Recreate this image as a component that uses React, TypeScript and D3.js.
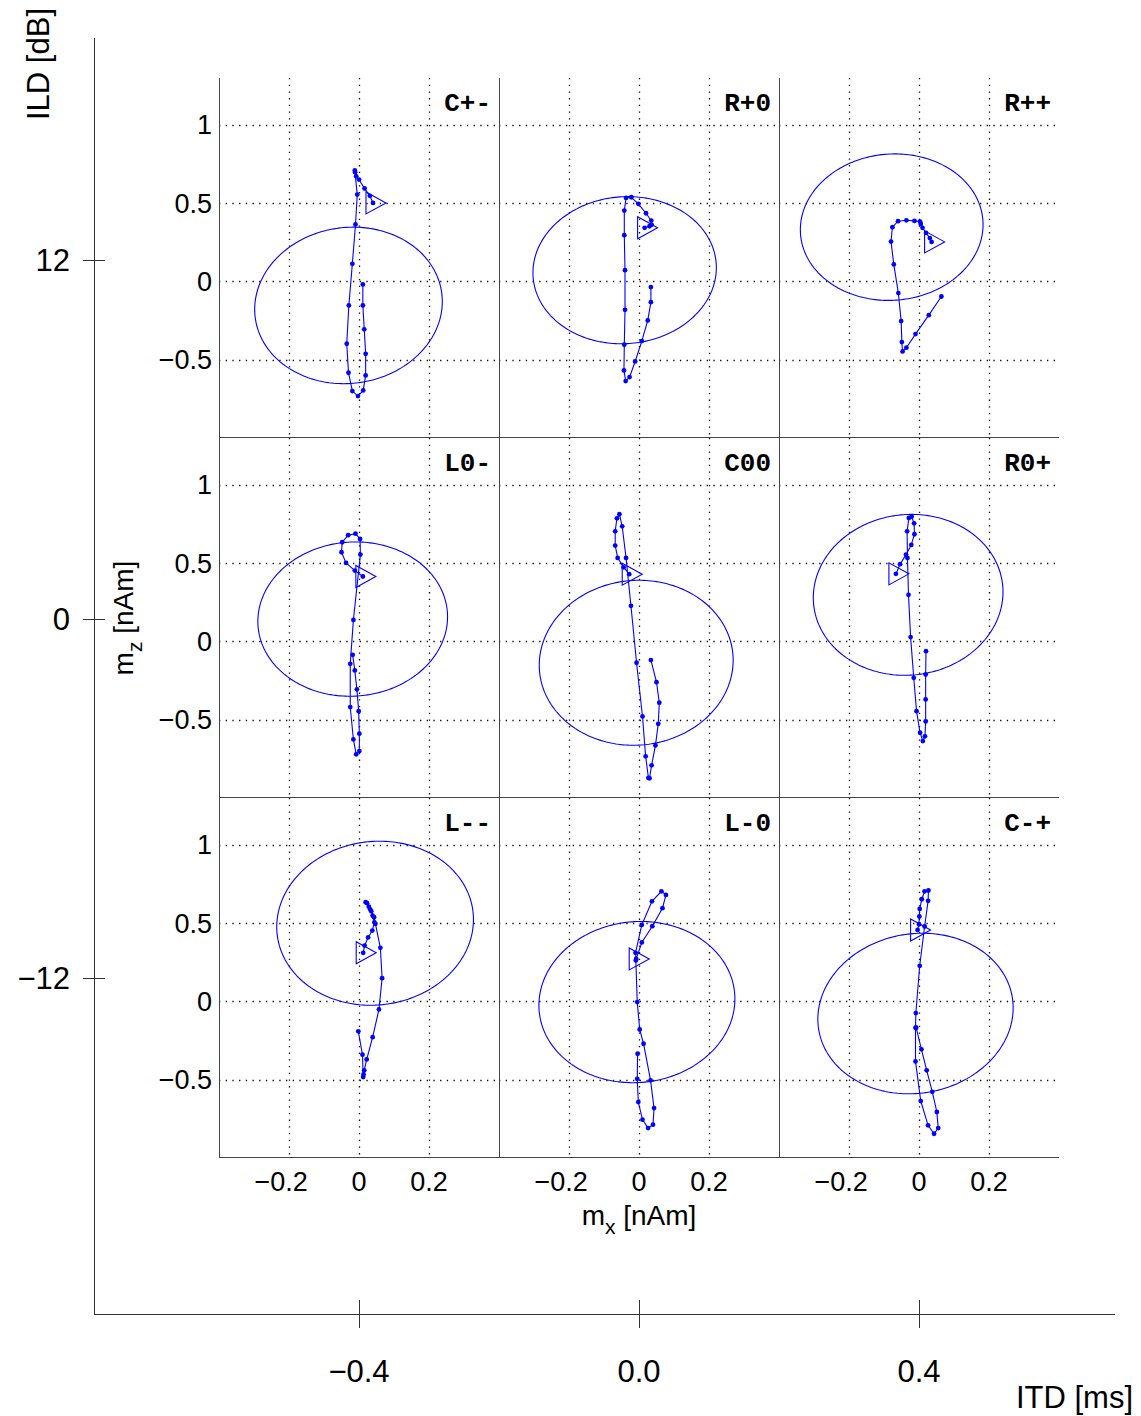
import React from "react";
import * as d3 from "d3";

// ---------- data ----------
const panelLabels = ["C+-", "R+0", "R++", "L0-", "C00", "R0+", "L--", "L-0", "C-+"];

const trajCpm: [number, number][] = [
  [0.040, 0.502], [0.031, 0.547], [0.016, 0.594], [0.000, 0.651], [-0.008, 0.672], [-0.011, 0.698],
  [-0.012, 0.709], [-0.005, 0.555], [-0.010, 0.364], [-0.019, 0.113], [-0.029, -0.153], [-0.035, -0.398],
  [-0.030, -0.583], [-0.019, -0.700], [-0.003, -0.732], [0.012, -0.696], [0.019, -0.600], [0.019, -0.462],
  [0.015, -0.306], [0.011, -0.153], [0.011, -0.019],
];
const trajRp0: [number, number][] = [
  [0.016, 0.343], [0.030, 0.353], [0.036, 0.362], [0.035, 0.389], [0.020, 0.436], [-0.002, 0.496],
  [-0.022, 0.538], [-0.037, 0.534], [-0.042, 0.453], [-0.042, 0.296], [-0.040, 0.072], [-0.040, -0.181],
  [-0.042, -0.404], [-0.043, -0.568], [-0.038, -0.636], [-0.027, -0.611], [-0.011, -0.511], [0.008, -0.381],
  [0.025, -0.249], [0.034, -0.132], [0.034, -0.036],
];
const trajRpp: [number, number][] = [
  [0.036, 0.253], [0.031, 0.277], [0.020, 0.311], [0.010, 0.343], [0.005, 0.368], [0.003, 0.383],
  [-0.013, 0.387], [-0.036, 0.391], [-0.060, 0.385], [-0.076, 0.347], [-0.080, 0.255], [-0.072, 0.109],
  [-0.059, -0.074], [-0.051, -0.253], [-0.049, -0.387], [-0.047, -0.447], [-0.036, -0.423], [-0.010, -0.336],
  [0.028, -0.215], [0.064, -0.096],
];
const trajL0m: [number, number][] = [
  [0.011, 0.415], [-0.012, 0.453], [-0.037, 0.502], [-0.050, 0.570], [-0.048, 0.634], [-0.031, 0.679],
  [-0.010, 0.689], [0.003, 0.655], [0.004, 0.555], [-0.016, 0.138], [-0.025, -0.143], [-0.025, -0.419],
  [-0.016, -0.626], [-0.008, -0.721], [0.001, -0.700], [0.001, -0.589], [-0.001, -0.445], [-0.006, -0.306],
  [-0.012, -0.185], [-0.018, -0.085],
];
const trajC00: [number, number][] = [
  [-0.028, 0.430], [-0.044, 0.474], [-0.061, 0.534], [-0.068, 0.613], [-0.068, 0.704], [-0.063, 0.787],
  [-0.056, 0.813], [-0.048, 0.736], [-0.037, 0.534], [-0.023, 0.228], [-0.007, -0.136], [0.010, -0.479],
  [0.019, -0.734], [0.027, -0.872], [0.030, -0.874], [0.036, -0.791], [0.047, -0.664], [0.055, -0.526],
  [0.058, -0.391], [0.050, -0.260], [0.034, -0.119],
];
const trajR0p: [number, number][] = [
  [-0.066, 0.432], [-0.054, 0.494], [-0.037, 0.555], [-0.022, 0.617], [-0.013, 0.685], [-0.014, 0.755],
  [-0.021, 0.798], [-0.029, 0.789], [-0.034, 0.704], [-0.033, 0.534], [-0.030, 0.298], [-0.024, 0.028],
  [-0.015, -0.232], [-0.007, -0.445], [0.003, -0.583], [0.011, -0.636], [0.017, -0.606], [0.019, -0.511],
  [0.019, -0.370], [0.019, -0.211], [0.020, -0.062],
];
const trajLmm: [number, number][] = [
  [0.012, 0.311], [0.016, 0.357], [0.026, 0.409], [0.038, 0.453], [0.044, 0.506], [0.039, 0.549],
  [0.032, 0.589], [0.023, 0.628], [0.019, 0.634], [0.028, 0.606], [0.035, 0.577], [0.043, 0.538],
  [0.047, 0.496], [0.061, 0.343], [0.066, 0.149], [0.057, -0.051], [0.039, -0.228], [0.022, -0.370],
  [0.015, -0.440], [0.013, -0.466], [0.012, -0.483], [0.010, -0.340], [-0.002, -0.191],
];
const trajLm0: [number, number][] = [
  [-0.008, 0.272], [0.008, 0.377], [0.038, 0.481], [0.067, 0.596], [0.077, 0.681], [0.064, 0.704],
  [0.037, 0.640], [0.008, 0.489], [-0.010, 0.311], [-0.009, 0.262], [-0.005, -0.004], [0.002, -0.179],
  [0.013, -0.270], [0.033, -0.504], [0.043, -0.681], [0.040, -0.787], [0.026, -0.809], [0.010, -0.755],
  [-0.002, -0.643], [-0.005, -0.494], [-0.004, -0.334],
];
const trajCmp: [number, number][] = [
  [-0.004, 0.457], [0.000, 0.494], [0.001, 0.543], [0.002, 0.591], [0.008, 0.653], [0.016, 0.704],
  [0.027, 0.709], [0.026, 0.643], [0.016, 0.479], [0.002, 0.228], [-0.009, -0.074], [-0.010, -0.168],
  [-0.010, -0.383], [0.005, -0.636], [0.026, -0.791], [0.043, -0.845], [0.055, -0.809], [0.051, -0.706],
  [0.038, -0.577], [0.022, -0.440], [0.007, -0.306], [-0.008, -0.168],
];
const trajectories = [trajCpm, trajRp0, trajRpp, trajL0m, trajC00, trajR0p, trajLmm, trajLm0, trajCmp];

// ellipse (centre, half-extent in x and z, correlation)
const ellipseCx = [-0.030, -0.041, -0.078, -0.018, -0.008, -0.031, 0.046, -0.006, -0.010];
const ellipseCy = [-0.153, 0.072, 0.347, 0.143, -0.136, 0.298, 0.500, -0.004, -0.077];
const ellipseSx = [0.268, 0.262, 0.261, 0.271, 0.277, 0.271, 0.281, 0.280, 0.279];
const ellipseSy = [0.500, 0.470, 0.468, 0.493, 0.527, 0.514, 0.524, 0.515, 0.513];
const ellipseRho = [0.05, 0.035, 0.035, 0.03, 0.03, 0.036, 0.045, 0.04, 0.07];

// inner axis ticks
const mxTicks = [-0.2, 0, 0.2];
const mxTickLabels = ["\u22120.2", "0", "0.2"];
const mzTicks = [1, 0.5, 0, -0.5];
const mzTickLabels = ["1", "0.5", "0", "\u22120.5"];

// outer axis ticks
const itdTicks = [-0.4, 0.0, 0.4];
const itdTickLabels = ["\u22120.4", "0.0", "0.4"];
const ildTicks = [12, 0, -12];
const ildTickLabels = ["12", "0", "\u221212"];

// ---------- layout ----------
const W = 1141;
const H = 1416;
const PW = 280;
const PH = 360;
const X0 = 219;
const Y0 = 78;
const BLUE = "#0000ff";
const SANS = "'Liberation Sans', Arial, Helvetica, sans-serif";
const MONO = "'Liberation Mono', 'Courier New', monospace";
const TICK_FS = 27;

const xS = d3.scaleLinear().domain([-0.4, 0.4]).range([0, PW]);
const yS = d3.scaleLinear().domain([-1, 1.3]).range([PH, 0]);

const itdScale = d3.scaleLinear().domain([-0.4, 0.4]).range([359, 919]);
const ildScale = d3.scaleLinear().domain([-12, 12]).range([978, 260]);

const lineGen = d3
  .line<[number, number]>()
  .x((d) => xS(d[0]))
  .y((d) => yS(d[1]));

const ellipseGen = d3
  .line<[number, number]>()
  .x((d) => xS(d[0]))
  .y((d) => yS(d[1]))
  .curve(d3.curveLinearClosed);

function ellipsePoints(i: number): [number, number][] {
  const cx = ellipseCx[i], cy = ellipseCy[i], sx = ellipseSx[i], sy = ellipseSy[i], r = ellipseRho[i];
  const q = Math.sqrt(1 - r * r);
  return d3.range(0, 2 * Math.PI, Math.PI / 120).map((t) => [
    cx + sx * Math.cos(t),
    cy + sy * (r * Math.cos(t) + q * Math.sin(t)),
  ]);
}

// approximate Arial advance widths (em) for digits and point
function numWidth(s: string, fs: number) {
  let w = 0;
  for (const ch of s) w += ch === "." ? 0.278 : 0.556;
  return w * fs;
}

function XTickLabel({ x, y, label }: { x: number; y: number; label: string }) {
  const neg = label.startsWith("\u2212");
  const body = neg ? label.slice(1) : label;
  const bw = numWidth(body, TICK_FS);
  return (
    <g>
      <text x={x} y={y} textAnchor="middle" fontFamily={SANS} fontSize={TICK_FS} fill="#000">{body}</text>
      {neg && (
        <text x={x - bw / 2} y={y} textAnchor="end" fontFamily={SANS} fontSize={TICK_FS} fill="#000">{"\u2212"}</text>
      )}
    </g>
  );
}

function Panel({ i }: { i: number }) {
  const col = i % 3;
  const row = Math.floor(i / 3);
  const tx = X0 + col * PW;
  const ty = Y0 + row * PH;
  const traj = trajectories[i];
  const start = traj[0];
  const sx = xS(start[0]);
  const sy = yS(start[1]);
  const tri = `M${sx - 7},${sy - 11}L${sx - 7},${sy + 11}L${sx + 13},${sy}Z`;
  return (
    <g transform={`translate(${tx},${ty})`}>
      {mxTicks.map((t) => (
        <line key={"gx" + t} x1={Math.round(xS(t)) + 0.5} x2={Math.round(xS(t)) + 0.5} y1={0} y2={PH}
          stroke="#000" strokeWidth={1.3} strokeDasharray="1.3 5.4" />
      ))}
      {mzTicks.map((t) => (
        <line key={"gy" + t} x1={0} x2={PW} y1={Math.round(yS(t)) + 0.5} y2={Math.round(yS(t)) + 0.5}
          stroke="#000" strokeWidth={1.3} strokeDasharray="1.3 5.4" />
      ))}
      <line x1={0.5} x2={0.5} y1={0} y2={PH} stroke="#444" strokeWidth={1} />
      <line x1={0} x2={PW} y1={PH - 0.5} y2={PH - 0.5} stroke="#444" strokeWidth={1} />
      <path d={ellipseGen(ellipsePoints(i)) || ""} fill="none" stroke={BLUE} strokeWidth={1.1} />
      <path d={lineGen(traj) || ""} fill="none" stroke={BLUE} strokeWidth={1.1} />
      {traj.map((p, k) => (
        <circle key={k} cx={xS(p[0])} cy={yS(p[1])} r={2.4} fill={BLUE} />
      ))}
      <path d={tri} fill="none" stroke={BLUE} strokeWidth={1.1} />
      <text x={PW - 8} y={33} textAnchor="end" fontFamily={MONO} fontWeight="bold" fontSize={26} fill="#000">
        {panelLabels[i]}
      </text>
      {col === 0 &&
        mzTicks.map((t, k) => (
          <text key={"yl" + t} x={-7} y={yS(t)} dy="0.35em" textAnchor="end" fontFamily={SANS} fontSize={TICK_FS} fill="#000">
            {mzTickLabels[k]}
          </text>
        ))}
      {row === 2 &&
        mxTicks.map((t, k) => (
          <XTickLabel key={"xl" + t} x={xS(t)} y={PH + 33} label={mxTickLabels[k]} />
        ))}
    </g>
  );
}

export default function App() {
  return (
    <svg width={W} height={H} style={{ position: "absolute", left: 0, top: 0, background: "#fff" }}>
      <rect x={0} y={0} width={W} height={H} fill="#fff" />
      {/* outer axes */}
      <line x1={94.5} x2={94.5} y1={38} y2={1314} stroke="#333" strokeWidth={1} />
      <line x1={94} x2={1115} y1={1314.5} y2={1314.5} stroke="#333" strokeWidth={1} />
      {itdTicks.map((t, k) => (
        <g key={"itd" + t}>
          <line x1={itdScale(t) + 0.5} x2={itdScale(t) + 0.5} y1={1300} y2={1328} stroke="#333" strokeWidth={1} />
          <text x={itdScale(t)} y={1382} textAnchor="middle" fontFamily={SANS} fontSize={31} fill="#000">
            {itdTickLabels[k]}
          </text>
        </g>
      ))}
      {ildTicks.map((t, k) => (
        <g key={"ild" + t}>
          <line x1={83} x2={105} y1={ildScale(t) + 0.5} y2={ildScale(t) + 0.5} stroke="#333" strokeWidth={1} />
          <text x={70} y={ildScale(t)} dy="0.36em" textAnchor="end" fontFamily={SANS} fontSize={31} fill="#000">
            {ildTickLabels[k]}
          </text>
        </g>
      ))}
      <text x={1133} y={1408} textAnchor="end" fontFamily={SANS} fontSize={31} fill="#000">ITD [ms]</text>
      <text transform="translate(49,64) rotate(-90)" textAnchor="middle" fontFamily={SANS} fontSize={31} fill="#000">
        ILD [dB]
      </text>

      {d3.range(9).map((i) => (
        <Panel key={i} i={i} />
      ))}

      {/* inner axis labels */}
      <text x={639} y={1225} textAnchor="middle" fontFamily={SANS} fontSize={28} fill="#000">
        m<tspan fontSize={21} dy={9}>x</tspan><tspan dy={-9}> [nAm]</tspan>
      </text>
      <text transform="translate(133,618) rotate(-90)" textAnchor="middle" fontFamily={SANS} fontSize={28} fill="#000">
        m<tspan fontSize={21} dy={9}>z</tspan><tspan dy={-9}> [nAm]</tspan>
      </text>
    </svg>
  );
}
